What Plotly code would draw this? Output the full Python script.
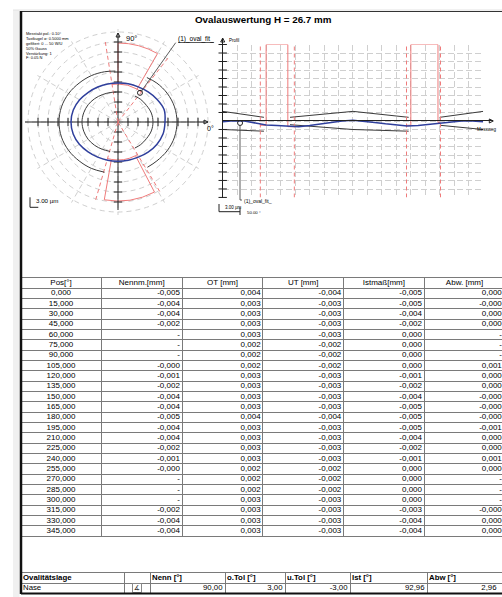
import plotly.graph_objects as go

W, H = 502, 597
FONT = "Liberation Sans, Arial, sans-serif"

# ---------------- data ----------------
TITLE = "Ovalauswertung H = 26.7 mm"
INFO_LINES = ["Messtakt pol.: 0.10°", "Tastkugel ø: 0.5000 mm", "gefiltert: 0 ... 50 W/U",
              "50% Gauss", "Verstärkung: 1", "F: 0.05 N"]

# polar view (radius in display units, 10 units per dashed ring)
POLAR_THETA = [0, 15, 30, 45, 60, 75, 90, 105, 120, 135, 150, 165, 180,
               195, 210, 225, 240, 255, 270, 285, 300, 315, 330, 345, 360]
MEASURED_R = [47.0, 47.8, 45.2, 42.6, 40.6, 39.5, 39.0, 39.4, 40.4, 42.0, 44.3, 46.3, 47.0,
              46.4, 44.6, 42.3, 40.6, 39.6, 39.2, 39.5, 40.6, 42.6, 44.8, 46.6, 47.0]
TOL_A_THETA = [-57, -45, -30, -15, 0, 15, 30, 45, 57]
TOL_B_THETA = [93, 105, 120, 135, 150, 165, 180, 195, 210, 225, 240, 255]
OUTER_A_R = [54, 55, 57, 58.5, 59, 58.5, 57, 55, 53]
OUTER_B_R = [51, 52, 53.5, 55, 57, 58.5, 59, 58.5, 57, 55, 53.5, 52]
INNER_A_R = [31, 32, 33, 34.5, 35, 34.5, 33, 32, 31]
INNER_B_R = [30, 30.5, 31.5, 33, 34.5, 35.5, 36, 35.5, 34.5, 33, 31.5, 30.5]
NOSE_FROM = [60, 260]
NOSE_TO = [90, 297.5]
NOSE_LIMITS = [52, 99, 254, 301]
NOSE_R_LOW, NOSE_R_HIGH = 38, 79
FIT_R, FIT_THETA = 36.5, 53

# unrolled profile (x in degrees, y in µm)
PROFILE_X = [0, 15, 30, 45, 60, 75, 90, 105, 120, 135, 150, 165, 180,
             195, 210, 225, 240, 255, 270, 285, 300, 315, 330, 345, 360]
PROFILE_Y = [-0.3, 0.1, 0.0, -0.6, -1.4, -1.6, -1.8, -2.0, -1.6, -1.0, -0.4, 0.0, 0.3,
             0.0, -0.5, -1.0, -1.5, -1.8, -1.6, -1.2, -0.6, -0.3, 0.0, 0.0, -0.3]
TOL_PROFILE_X = [0, 57, None, 93, 180, 257, None, 300, 360]
OT_PROFILE_Y = [3.4, 1.3, None, 1.3, 3.4, 1.3, None, 1.3, 3.4]
UT_PROFILE_Y = [-3.0, -3.6, None, -1.3, -3.0, -3.6, None, -1.5, -3.0]
NOSE_LOW_L = [-1.5, -1.5]
NOSE_LOW_R = [-2.0, -0.5]
NOSE_HIGH = 27
FIT_X, FIT_Y = 24, -0.7

# table
COLS = ["Pos[°]", "Nennm.[mm]", "OT [mm]", "UT [mm]", "Istmaß[mm]", "Abw. [mm]"]
POS = ["0,000", "15,000", "30,000", "45,000", "60,000", "75,000", "90,000", "105,000",
       "120,000", "135,000", "150,000", "165,000", "180,000", "195,000", "210,000", "225,000",
       "240,000", "255,000", "270,000", "285,000", "300,000", "315,000", "330,000", "345,000"]
NENNM = ["-0,005", "-0,004", "-0,004", "-0,002", "-", "-", "-", "-0,000", "-0,001", "-0,002",
         "-0,004", "-0,004", "-0,005", "-0,004", "-0,004", "-0,002", "-0,001", "-0,000",
         "-", "-", "-", "-0,002", "-0,004", "-0,004"]
OT = ["0,004", "0,003", "0,003", "0,003", "0,003", "0,002", "0,002", "0,002", "0,003", "0,003",
      "0,003", "0,003", "0,004", "0,003", "0,003", "0,003", "0,003", "0,002", "0,002", "0,002",
      "0,003", "0,003", "0,003", "0,003"]
UT = ["-0,004", "-0,003", "-0,003", "-0,003", "-0,003", "-0,002", "-0,002", "-0,002", "-0,003",
      "-0,003", "-0,003", "-0,003", "-0,004", "-0,003", "-0,003", "-0,003", "-0,003", "-0,002",
      "-0,002", "-0,002", "-0,003", "-0,003", "-0,003", "-0,003"]
IST = ["-0,005", "-0,005", "-0,004", "-0,002", "0,000", "0,000", "0,000", "0,000", "-0,001",
       "-0,002", "-0,004", "-0,005", "-0,005", "-0,005", "-0,004", "-0,002", "-0,001", "0,000",
       "0,000", "0,000", "0,000", "-0,003", "-0,004", "-0,004"]
ABW = ["0,000", "-0,000", "0,000", "0,000", "-", "-", "-", "0,001", "0,000", "0,000", "-0,000",
       "-0,000", "-0,000", "-0,001", "0,000", "0,000", "0,001", "0,000", "-", "-", "-",
       "-0,000", "0,000", "0,000"]

LAGE_COLS = ["Ovalitätslage", "", "Nenn [°]", "o.Tol [°]", "u.Tol [°]", "Ist [°]", "Abw [°]"]
LAGE_ROW = ["Nase", "∡", "90,00", "3,00", "-3,00", "92,96", "2,96"]

# ---------------- helpers ----------------
def px(x):
    return x / W

def py(y):
    return 1 - y / H

RED = "#ef7b7b"
BLUE = "#2f3f9c"
DARK = "#3a3a3a"
GRID = "#cfcfcf"
TLINE = "#7a7a7a"

fig = go.Figure()

# ---------------- polar view ----------------
ticks_r = [10, 20, 30, 40, 50, 60, 70, 80]
fig.add_trace(go.Scatterpolar(r=[93, 0, 90], theta=[180, 0, 0], mode="lines",
                              line=dict(color="#222", width=1), subplot="polar", hoverinfo="skip"))
fig.add_trace(go.Scatterpolar(r=[88, 0, 89], theta=[270, 0, 90], mode="lines",
                              line=dict(color="#222", width=1), subplot="polar", hoverinfo="skip"))
fig.add_trace(go.Scatterpolar(r=ticks_r * 2, theta=[0] * 8 + [180] * 8, mode="markers",
                              marker=dict(symbol="line-ns", size=6, line=dict(color="#222", width=1)),
                              subplot="polar", hoverinfo="skip"))
fig.add_trace(go.Scatterpolar(r=ticks_r * 2, theta=[90] * 8 + [270] * 8, mode="markers",
                              marker=dict(symbol="line-ew", size=6, line=dict(color="#222", width=1)),
                              subplot="polar", hoverinfo="skip"))
fig.add_trace(go.Scatterpolar(r=[90], theta=[0], mode="markers", cliponaxis=False,
                              marker=dict(symbol="arrow-right-open", size=4, color="#222",
                                          line=dict(color="#222", width=1)),
                              subplot="polar", hoverinfo="skip"))
fig.add_trace(go.Scatterpolar(r=[89], theta=[90], mode="markers", cliponaxis=False,
                              marker=dict(symbol="arrow-up-open", size=4, color="#222",
                                          line=dict(color="#222", width=1)),
                              subplot="polar", hoverinfo="skip"))

# nose windows
fig.add_trace(go.Barpolar(
    r=[NOSE_R_HIGH - NOSE_R_LOW] * 2, base=[NOSE_R_LOW] * 2,
    theta=[(a + b) / 2 for a, b in zip(NOSE_FROM, NOSE_TO)],
    width=[b - a for a, b in zip(NOSE_FROM, NOSE_TO)],
    marker=dict(color="rgba(0,0,0,0)", line=dict(color=RED, width=1)),
    subplot="polar", hoverinfo="skip"))
dash_r, dash_t = [], []
for t in NOSE_LIMITS:
    dash_r += [0, 82, None]
    dash_t += [t, t, None]
fig.add_trace(go.Scatterpolar(r=dash_r, theta=dash_t, mode="lines",
                              line=dict(color=RED, width=1, dash="4px,3px"),
                              subplot="polar", hoverinfo="skip"))
feet_t = [NOSE_LIMITS[0], NOSE_FROM[0], None, NOSE_TO[0], NOSE_LIMITS[1], None,
          NOSE_LIMITS[2], NOSE_FROM[1], None, NOSE_TO[1], NOSE_LIMITS[3]]
feet_r = [NOSE_R_LOW if t is not None else None for t in feet_t]
fig.add_trace(go.Scatterpolar(r=feet_r, theta=feet_t, mode="lines",
                              line=dict(color=RED, width=1), subplot="polar", hoverinfo="skip"))

# tolerance arcs
for th, rr in [(TOL_A_THETA, OUTER_A_R), (TOL_B_THETA, OUTER_B_R),
               (TOL_A_THETA, INNER_A_R), (TOL_B_THETA, INNER_B_R)]:
    fig.add_trace(go.Scatterpolar(r=rr, theta=th, mode="lines",
                                  line=dict(color=DARK, width=1, shape="spline"),
                                  subplot="polar", hoverinfo="skip"))
# measured
fig.add_trace(go.Scatterpolar(r=MEASURED_R, theta=POLAR_THETA, mode="lines",
                              line=dict(color=BLUE, width=1.5, shape="spline"),
                              subplot="polar", hoverinfo="skip"))
fig.add_trace(go.Scatterpolar(r=[FIT_R], theta=[FIT_THETA], mode="markers",
                              marker=dict(symbol="circle-open", size=5, color="#222"),
                              subplot="polar", hoverinfo="skip"))

# ---------------- unrolled profile ----------------
fig.add_trace(go.Scatter(x=TOL_PROFILE_X, y=OT_PROFILE_Y, mode="lines",
                         line=dict(color=DARK, width=1), xaxis="x", yaxis="y", hoverinfo="skip"))
fig.add_trace(go.Scatter(x=TOL_PROFILE_X, y=UT_PROFILE_Y, mode="lines",
                         line=dict(color=DARK, width=1), xaxis="x", yaxis="y", hoverinfo="skip"))
dx, dy = [], []
for t in NOSE_LIMITS:
    dx += [t, t, None]
    dy += [-27, 27, None]
fig.add_trace(go.Scatter(x=dx, y=dy, mode="lines", line=dict(color=RED, width=1, dash="4px,3px"),
                         xaxis="x", yaxis="y", hoverinfo="skip"))
for i in range(2):
    fig.add_trace(go.Scatter(
        x=[NOSE_LIMITS[2 * i], NOSE_FROM[i], NOSE_FROM[i], NOSE_TO[i], NOSE_TO[i], NOSE_LIMITS[2 * i + 1]],
        y=[NOSE_LOW_L[i], NOSE_LOW_L[i], NOSE_HIGH, NOSE_HIGH, NOSE_LOW_R[i], NOSE_LOW_R[i]],
        mode="lines", line=dict(color=RED, width=1), xaxis="x", yaxis="y", hoverinfo="skip"))
fig.add_trace(go.Scatter(x=PROFILE_X, y=PROFILE_Y, mode="lines", line=dict(color=BLUE, width=1.5),
                         xaxis="x", yaxis="y", hoverinfo="skip"))
fig.add_trace(go.Scatter(x=[FIT_X], y=[FIT_Y], mode="markers",
                         marker=dict(symbol="circle-open", size=5, color="#222"),
                         xaxis="x", yaxis="y", hoverinfo="skip", cliponaxis=False))
# axis frame (ticks + arrows)
yt = [-27, -24, -21, -18, -15, -12, -9, -6, -3, 3, 6, 9, 12, 15, 18, 21, 24, 27]
fig.add_trace(go.Scatter(x=[0] * len(yt), y=yt, mode="markers", cliponaxis=False,
                         marker=dict(symbol="line-ew", size=6, line=dict(color="#222", width=1)),
                         xaxis="x2", yaxis="y2", hoverinfo="skip"))
fig.add_trace(go.Scatter(x=[374], y=[0], mode="markers", cliponaxis=False,
                         marker=dict(symbol="arrow-right-open", size=4, color="#222",
                                     line=dict(color="#222", width=1)),
                         xaxis="x2", yaxis="y2", hoverinfo="skip"))
fig.add_trace(go.Scatter(x=[0], y=[29.3], mode="markers", cliponaxis=False,
                         marker=dict(symbol="arrow-up-open", size=4, color="#222",
                                     line=dict(color="#222", width=1)),
                         xaxis="x2", yaxis="y2", hoverinfo="skip"))

# ---------------- measurement table (cells on a row/column grid axis) ----------------
T1_LEFT, T1_TOP, T1_ROWH, T1_COLW = 20.7, 278, 10.32, 80.7
n_rows = len(POS) + 1
T1_BOTTOM = T1_TOP + n_rows * T1_ROWH
T1_XMAX = (W - T1_LEFT) / T1_COLW
TFONT = dict(family=FONT, size=8, color="black")
pad = 2.2 / T1_COLW

fig.add_trace(go.Scatter(x=[i + 0.5 for i in range(len(COLS))], y=[0.5] * len(COLS), text=COLS,
                         mode="text", textposition="middle center", textfont=TFONT,
                         cliponaxis=False, xaxis="x3", yaxis="y3", hoverinfo="skip"))
rows_y = [r + 1.5 for r in range(len(POS))]
fig.add_trace(go.Scatter(x=[0.5] * len(POS), y=rows_y, text=POS, mode="text",
                         textposition="middle center", textfont=TFONT, cliponaxis=False,
                         xaxis="x3", yaxis="y3", hoverinfo="skip"))
for j, col in enumerate([NENNM, OT, UT, IST, ABW], start=1):
    xr = min(j + 1 - pad, T1_XMAX - 0.002)
    fig.add_trace(go.Scatter(x=[xr] * len(col), y=rows_y, text=col, mode="text",
                             textposition="middle left", textfont=TFONT, cliponaxis=False,
                             xaxis="x3", yaxis="y3", hoverinfo="skip"))

# ---------------- Ovalitätslage table ----------------
LAGE_EDGES = [21, 124, 150, 225, 285, 350, 427, 499]
BFONT = dict(family=FONT, size=7.8, color="black")
hx = [LAGE_EDGES[i] + 2 for i in range(len(LAGE_COLS))]
fig.add_trace(go.Scatter(x=hx, y=[0.5] * len(LAGE_COLS),
                         text=["<b>%s</b>" % c if c else "" for c in LAGE_COLS],
                         mode="text", textposition="middle right", textfont=BFONT,
                         cliponaxis=False, xaxis="x4", yaxis="y4", hoverinfo="skip"))
fig.add_trace(go.Scatter(x=[LAGE_EDGES[0] + 2], y=[1.5], text=[LAGE_ROW[0]], mode="text",
                         textposition="middle right", textfont=BFONT, cliponaxis=False,
                         xaxis="x4", yaxis="y4", hoverinfo="skip"))
fig.add_trace(go.Scatter(x=[(LAGE_EDGES[1] + LAGE_EDGES[2]) / 2], y=[1.5], text=[LAGE_ROW[1]],
                         mode="markers+text", textposition="middle center",
                         marker=dict(symbol="square-open", size=9, color="#888", line=dict(width=1)),
                         textfont=dict(family="DejaVu Sans", size=7, color="#333"), cliponaxis=False,
                         xaxis="x4", yaxis="y4", hoverinfo="skip"))
fig.add_trace(go.Scatter(x=[e - 2.5 for e in LAGE_EDGES[3:]], y=[1.5] * 5, text=LAGE_ROW[2:],
                         mode="text", textposition="middle left", textfont=BFONT, cliponaxis=False,
                         xaxis="x4", yaxis="y4", hoverinfo="skip"))

# ---------------- annotations ----------------
ann = []
def txt(x, y, s, size, anchor="left"):
    ann.append(dict(x=px(x), y=py(y), xref="paper", yref="paper", text=s, showarrow=False,
                    xanchor=anchor, yanchor="middle",
                    font=dict(family=FONT, size=size, color="black")))

txt(263, 19.5, "<b>%s</b>" % TITLE, 9.8, "center")
for i, line in enumerate(INFO_LINES):
    txt(23.5, 33.3 + 4.93 * i, line, 4.0)
txt(131.5, 38, "90°", 7.5, "center")
txt(210, 128.5, "0°", 7, "center")
txt(175.5, 39.5, "<u>(1)_oval_fit_</u>", 6.5)
txt(34, 200.7, "3.00 µm", 6.2)
txt(226.5, 40.5, "Profil", 4.5)
txt(486.5, 129.3, "Messweg", 4.5, "center")
txt(241.7, 200.7, "(1)_oval_fit_", 5)
txt(223, 207.3, "3.00 µm", 4.5)
txt(245, 212.3, "50.00 °", 4.3)

def seg(x0, y0, x1, y1, color="#222", width=1):
    return dict(type="line", xref="paper", yref="paper", x0=px(x0), y0=py(y0), x1=px(x1), y1=py(y1),
                line=dict(color=color, width=width))

shapes = [
    dict(type="rect", xref="paper", yref="paper", x0=px(13), x1=px(19.5), y0=py(597), y1=py(10),
         fillcolor="#f0f0f0", line=dict(width=0), layer="below"),
    seg(13, 10, 502, 10, "#e2e2e2", 1),
    seg(21, 11.5, 502, 11.5, "#333", 1),
    seg(21, 11, 21, 594, "#111", 2.5),
    seg(21, 593.5, 502, 593.5, "#111", 2),
    # leader lines
    seg(141.5, 91, 175.7, 42.7, "#333", 0.8),
    seg(240, 125.5, 240, 200, "#333", 0.8),
    seg(240, 200, 242, 200, "#333", 0.8),
    # scale bars
    seg(30, 197.3, 30, 207.3), seg(30, 207.3, 38.3, 207.3),
    seg(219, 204, 219, 211.7), seg(219, 211.7, 240, 211.7), seg(240, 207.3, 240, 215),
]

axis_common = dict(showticklabels=False, ticks="", showline=False, zeroline=False)
fig.update_layout(
    width=W, height=H, margin=dict(l=0, r=0, t=0, b=0),
    paper_bgcolor="white", plot_bgcolor="rgba(0,0,0,0)", showlegend=False,
    font=dict(family=FONT),
    polar=dict(
        domain=dict(x=[px(25), px(211)], y=[py(215), py(29)]),
        bgcolor="rgba(0,0,0,0)",
        radialaxis=dict(range=[0, 93], tickvals=ticks_r + [90], showticklabels=False, ticks="",
                        showline=False, showgrid=True, gridcolor=GRID, griddash="5px,4px", gridwidth=1),
        angularaxis=dict(tickvals=list(range(0, 360, 30)), showticklabels=False, ticks="",
                         showline=False, showgrid=True, gridcolor=GRID, griddash="5px,4px",
                         gridwidth=1, rotation=0, direction="counterclockwise"),
    ),
    xaxis=dict(domain=[px(222.7), px(483.2)], range=[0, 360], tickvals=list(range(0, 361, 20)),
               showgrid=True, gridcolor=GRID, griddash="6px,3px", gridwidth=1, anchor="y", **axis_common),
    yaxis=dict(domain=[py(197.5), py(44.5)], range=[-27, 27], tickvals=list(range(-27, 28, 3)),
               showgrid=True, gridcolor=GRID, griddash="6px,3px", gridwidth=1, anchor="x", **axis_common),
    xaxis2=dict(domain=[px(222.7), px(493.3)], range=[0, 374], showgrid=False, anchor="y2",
                showticklabels=False, ticks="", showline=False, zeroline=True,
                zerolinecolor="#222", zerolinewidth=1),
    yaxis2=dict(domain=[py(198), py(38)], range=[-27.2, 29.3], showgrid=False, anchor="x2",
                showticklabels=False, ticks="", showline=False, zeroline=True,
                zerolinecolor="#222", zerolinewidth=1),
    xaxis3=dict(domain=[px(T1_LEFT), 1], range=[0, T1_XMAX], anchor="y3",
                tickvals=[1, 2, 3, 4, 5], showgrid=True, gridcolor=TLINE, gridwidth=1,
                showticklabels=False, ticks="", zeroline=False,
                showline=True, mirror=True, linecolor=TLINE, linewidth=1),
    yaxis3=dict(domain=[py(T1_BOTTOM), py(T1_TOP)], range=[n_rows, 0], anchor="x3",
                tickvals=list(range(1, n_rows)), showgrid=True, gridcolor=TLINE, gridwidth=1,
                showticklabels=False, ticks="", zeroline=False, showline=False),
    xaxis4=dict(domain=[px(21), 1], range=[21, W], anchor="y4",
                tickvals=LAGE_EDGES[1:-1], showgrid=True, gridcolor=TLINE, gridwidth=1,
                showticklabels=False, ticks="", zeroline=False,
                showline=True, mirror=True, linecolor=TLINE, linewidth=1),
    yaxis4=dict(domain=[py(593), py(573)], range=[2, 0], anchor="x4",
                tickvals=[1], showgrid=True, gridcolor=TLINE, gridwidth=1,
                showticklabels=False, ticks="", zeroline=False, showline=False),
    annotations=ann, shapes=shapes,
)

fig.write_html("out.html", config={"displayModeBar": False},
               post_script="document.body.style.margin='0';")
